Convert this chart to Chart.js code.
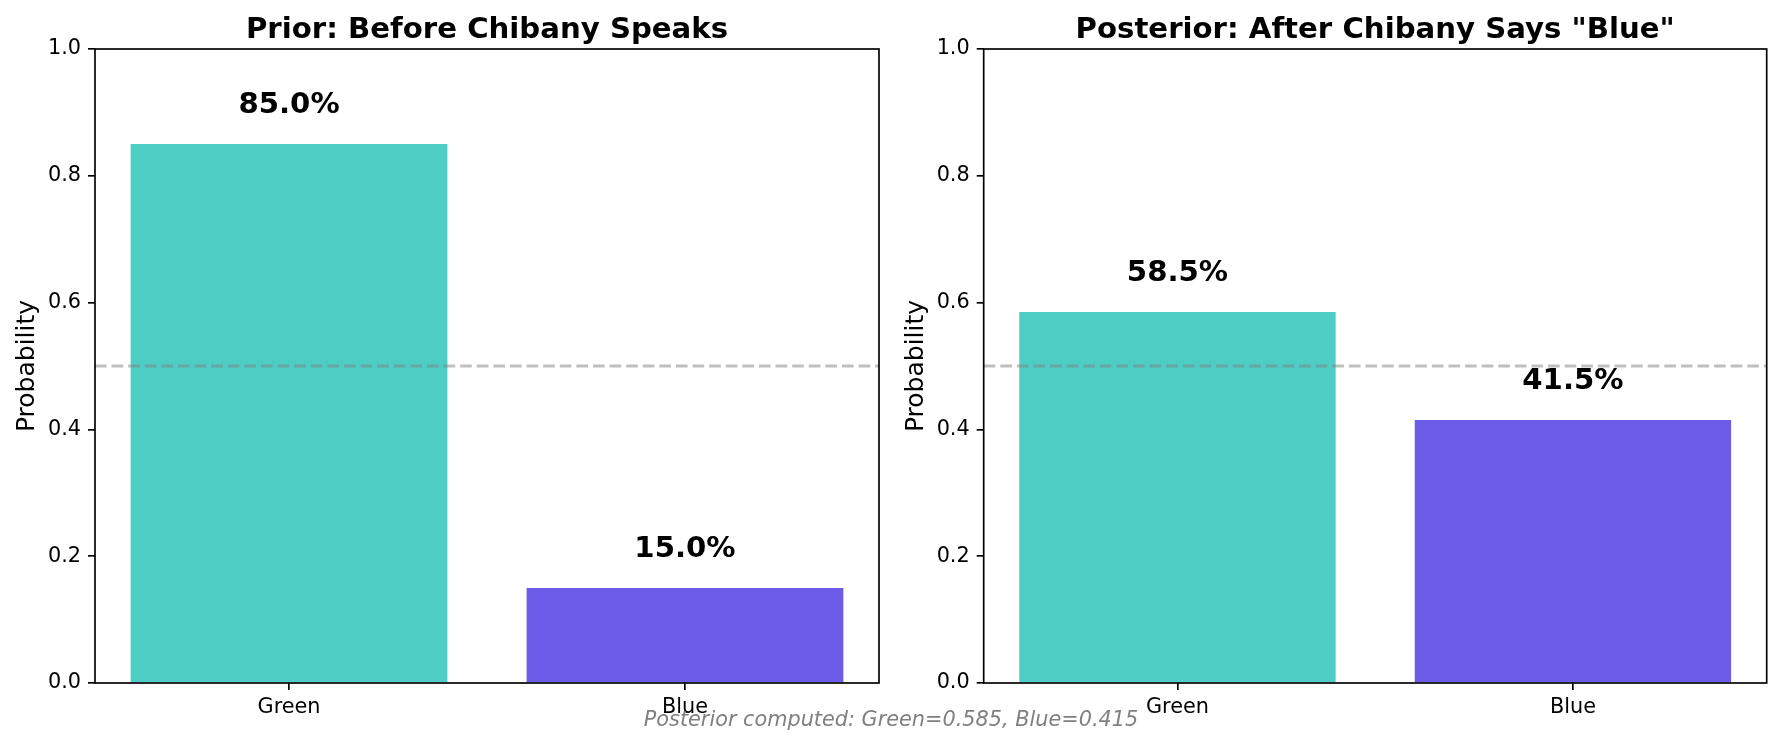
<!DOCTYPE html>
<html>
<head>
<meta charset="utf-8">
<script src="https://cdn.jsdelivr.net/npm/chart.js@4.4.1/dist/chart.umd.min.js"></script>
<style>
  html, body { margin: 0; padding: 0; background: #ffffff; }
  body { width: 1782px; height: 745px; position: relative; overflow: hidden; font-family: "DejaVu Sans", sans-serif; }
  canvas { position: absolute; top: 0; }
  #note { position: absolute; left: 0; width: 1782px; top: 709px; text-align: center;
          font: italic 20.8px "DejaVu Sans", sans-serif; line-height: 20.8px; color: #808080; }
</style>
</head>
<body>
<canvas id="c1" width="891" height="745" style="left:0px"></canvas>
<canvas id="c2" width="891" height="745" style="left:891px"></canvas>
<div id="note"></div>
<script>
// ---- data ----
const categories = ['Green', 'Blue'];
const priorValues = [0.85, 0.15];
const posteriorValues = [0.585, 0.415];
const barColors = ['#4ECDC4', '#6C5CE7'];
const yTickValues = [0, 0.2, 0.4, 0.6, 0.8, 1.0];
const chartTitles = ['Prior: Before Chibany Speaks', 'Posterior: After Chibany Says "Blue"'];
const yAxisLabel = 'Probability';
const referenceLevel = 0.5;
const footnoteText = 'Posterior computed: Green=0.585, Blue=0.415';

document.getElementById('note').textContent = footnoteText;

const FONT = '"DejaVu Sans", sans-serif';

function decorPlugin(titleText) {
  return {
    id: 'decor',
    afterDatasetsDraw(chart) {
      const ctx = chart.ctx;
      const area = chart.chartArea;
      const y = chart.scales.y;
      const x = chart.scales.x;
      // dashed reference line
      ctx.save();
      ctx.beginPath();
      ctx.rect(area.left, area.top, area.right - area.left, area.bottom - area.top);
      ctx.clip();
      ctx.strokeStyle = 'rgba(128,128,128,0.5)';
      ctx.lineWidth = 3.1;
      ctx.setLineDash([11.6, 5]);
      const yp = y.getPixelForValue(referenceLevel);
      ctx.beginPath();
      ctx.moveTo(area.left, yp);
      ctx.lineTo(area.right, yp);
      ctx.stroke();
      ctx.restore();
      // value labels
      ctx.save();
      ctx.fillStyle = '#000';
      ctx.font = 'bold 29.2px ' + FONT;
      ctx.textAlign = 'center';
      ctx.textBaseline = 'alphabetic';
      const data = chart.data.datasets[0].data;
      data.forEach((pt) => {
        const px = x.getPixelForValue(pt.x);
        const py = y.getPixelForValue(pt.y + 0.05) + 0.7;
        ctx.fillText((pt.y * 100).toFixed(1) + '%', px, py);
      });
      ctx.restore();
    },
    afterDraw(chart) {
      const ctx = chart.ctx;
      const area = chart.chartArea;
      ctx.save();
      ctx.strokeStyle = '#000';
      ctx.lineWidth = 1.67;
      ctx.strokeRect(area.left, area.top, area.right - area.left, area.bottom - area.top);
      ctx.fillStyle = '#000';
      ctx.font = 'bold 29.2px ' + FONT;
      ctx.textAlign = 'center';
      ctx.textBaseline = 'alphabetic';
      ctx.fillText(titleText, (area.left + area.right) / 2, area.top - 11.5);
      ctx.restore();
    }
  };
}

function makeChart(canvasId, values, titleText, axisWidth, rightPad) {
  return new Chart(document.getElementById(canvasId), {
    type: 'bar',
    data: {
      datasets: [{
        data: categories.map((c, i) => ({ x: i, y: values[i] })),
        backgroundColor: barColors,
        borderWidth: 0,
        barPercentage: 0.8,
        categoryPercentage: 1.0
      }]
    },
    options: {
      responsive: false,
      animation: false,
      devicePixelRatio: 1,
      layout: { padding: { top: 49, left: 0, right: rightPad, bottom: 0 } },
      plugins: { legend: { display: false }, tooltip: { enabled: false }, title: { display: false } },
      scales: {
        x: {
          type: 'linear',
          min: -0.49,
          max: 1.49,
          offset: false,
          afterBuildTicks(scale) { scale.ticks = categories.map((c, i) => ({ value: i })); },
          grid: { offset: false, drawOnChartArea: false, drawTicks: true, tickLength: 7, color: '#000', lineWidth: 1.67 },
          border: { display: false },
          ticks: { color: '#000', font: { family: FONT, size: 20.8 }, padding: 5, maxRotation: 0, autoSkip: false,
                   callback: (v) => categories[Math.round(v)] },
          afterFit(scale) { scale.height = 62; }
        },
        y: {
          min: 0,
          max: 1,
          afterBuildTicks(scale) { scale.ticks = yTickValues.map(v => ({ value: v })); },
          grid: { drawOnChartArea: false, drawTicks: true, tickLength: 7, color: '#000', lineWidth: 1.67 },
          border: { display: false },
          ticks: { color: '#000', font: { family: FONT, size: 20.8 }, padding: 7,
                   callback: (v) => Number(v).toFixed(1) },
          title: { display: true, text: yAxisLabel, color: '#000',
                   font: { family: FONT, size: 25, lineHeight: 1 },
                   padding: { top: axisWidth - 67.5 - 12.5, bottom: 0 } },
          afterFit(scale) { scale.width = axisWidth; }
        }
      }
    },
    plugins: [decorPlugin(titleText)]
  });
}

makeChart('c1', priorValues, chartTitles[0], 95, 12);
makeChart('c2', posteriorValues, chartTitles[1], 92.7, 15.3);
</script>
</body>
</html>
